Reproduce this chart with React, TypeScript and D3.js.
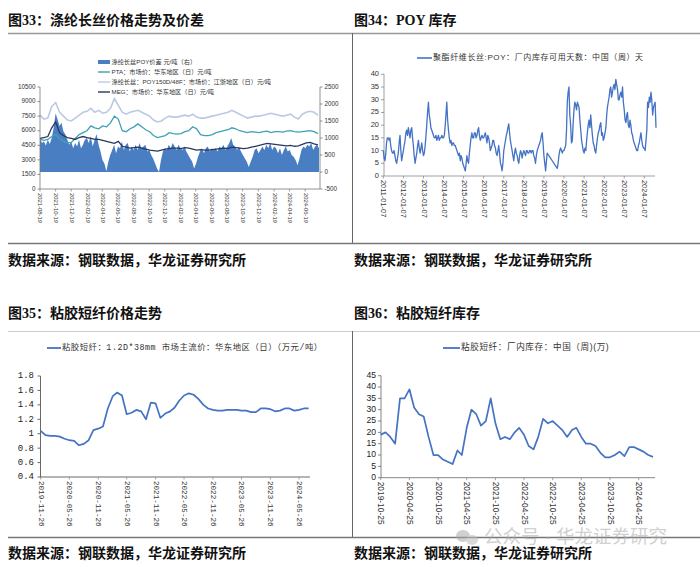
import React from "react";
import * as d3 from "d3";

// ---- 图33 涤纶长丝价格走势及价差 (2021-08-19 起) ----
// 价差（右轴，元/吨），约每周一个值
const spread = [
  1000, 850,
  900, 780, 950, 820, 1000, 1300, 1720, 1550, 1350, 1450, 1200, 1100,
  950, 800, 900, 700, 850, 750, 950, 700, 800, 950, 1000, 850,
  1050, 750, 950, 1120, 800, 600, 350, 250, 20, 300, 500, 650,
  800, 550, 750, 700, 900, 650, 800, 850, 600, 750, 650, 800,
  650, 850, 700, 750, 800, 600, 650, 500, 400, 250, 100, 0,
  350, 600, 700, 650, 800, 700, 850, 750, 650, 800, 700, 650,
  750, 600, 500, 400, 300, 100, 250, 450, 600, 700, 550, 700,
  750, 600, 700, 650, 700, 600, 750, 700, 800, 650, 750, 850,
  1000, 800, 750, 650, 750, 600, 500, 400, 300, 150, 300, 450,
  650, 700, 550, 650, 750, 650, 800, 700, 850, 650, 750, 700,
  550, 700, 500, 650, 750, 600, 650, 500, 450, 350, 200, 400,
  650, 750, 700, 800, 750, 850, 650, 750,
  800, 700,
];
// 半月值（左轴，元/吨）
const pta = [
  5100,
  5000, 5100, 5400, 5600, 5200, 4900, 4750, 4800,
  5200, 5600, 5800, 6000, 6500, 6300, 6200, 6500, 6400, 6800, 7500, 7200,
  6000, 5900, 6200, 6400, 6700, 6400, 6100, 5900, 5500, 5300, 5400, 5500,
  5800, 5700, 5650, 5700, 5900, 6000, 6400, 6200, 5600, 5500, 5500, 5600,
  5800, 5900, 6000, 6100, 6300, 6200, 6000, 5900, 5800, 5900, 5850, 5800,
  5900, 5950, 5800, 5900, 5900, 5850, 5950, 6000, 5900, 5850, 5900, 5950,
  6000, 5900, 5700,
];
const poy = [
  7600,
  7200, 7300, 8500, 8900, 7900, 7500, 7100, 7000,
  7300, 7600, 7900, 8000, 8300, 7900, 8100, 7800, 7900, 8300, 9300, 8600,
  7900, 7700, 7900, 8000, 8100, 7900, 7700, 7500, 7100, 6900, 7000, 7300,
  7500, 7400, 7400, 7500, 7600, 7500, 7700, 7400, 7300, 7300, 7400, 7500,
  7600, 7700, 7800, 7900, 8100, 7900, 7700, 7500, 7300, 7400, 7500, 7500,
  7600, 7700, 7800, 7700, 7600, 7500, 7600, 7700, 7400, 7200, 7700, 7900,
  8000, 7900, 7600,
];
const meg = [
  5200,
  5300, 5400, 6300, 6900, 5800, 5500, 5300, 5200,
  5100, 5300, 5400, 5300, 5200, 5100, 5100, 5000, 4900, 4800, 4700, 4900,
  4400, 4300, 4200, 4250, 4300, 4200, 4100, 4000, 3950, 3900, 4000, 4100,
  4150, 4200, 4200, 4150, 4250, 4200, 4100, 4000, 4050, 4000, 4000, 4050,
  4100, 4150, 4200, 4150, 4300, 4250, 4200, 4150, 4200, 4300, 4400, 4500,
  4600, 4700, 4650, 4600, 4550, 4500, 4450, 4500, 4400, 4450, 4600, 4750,
  4800, 4650, 4550,
];
const leftTicks33 = [0, 1500, 3000, 4500, 6000, 7500, 9000, 10500];
const rightTicks33 = [-500, 0, 500, 1000, 1500, 2000, 2500];
const legend33 = [
  "涤纶长丝POY价差 元/吨（右）",
  "PTA：市场价：华东地区（日）元/吨",
  "涤纶长丝：POY150D/48F：市场价：江浙地区（日）元/吨",
  "MEG：市场价：华东地区（日）元/吨",
];

// ---- 图34 POY 库存天数（半月，2011-01 起） ----
const poyDays = [
  10, 7, 6, 9, 13, 15, 15, 14, 15, 12, 10, 9, 9, 10, 8, 6, 5, 7, 9, 13, 16, 10, 6, 8,
  10, 12, 14, 17, 18, 16, 19, 17, 15, 18, 19, 15, 12, 8, 5, 7, 9, 12, 14, 11, 9, 11, 13, 10,
  8, 9, 12, 16, 20, 25, 29, 24, 22, 19, 18, 17, 16, 15, 15, 16, 14, 15, 16, 14, 15, 15, 16, 15,
  15, 16, 20, 25, 29, 22, 18, 15, 13, 14, 12, 13, 13, 12, 12, 11, 10, 9, 8, 9, 6, 8, 7, 5,
  4, 3, 2, 5, 8, 6, 5, 9, 12, 15, 17, 15, 15, 17, 17, 15, 16, 18, 19, 16, 14, 15, 16, 15,
  15, 16, 17, 15, 13, 16, 15, 13, 10, 11, 12, 14, 14, 12, 11, 9, 8, 10, 12, 9, 5, 4, 2, 5,
  10, 12, 14, 16, 17, 19, 20.5, 17, 14, 12, 10, 8, 6, 9, 11, 9, 8, 6, 5, 8, 10, 9, 7, 9,
  10, 9, 8, 10, 10, 9, 9, 10, 10, 9, 10, 10, 8, 7, 5, 8, 10, 11, 12, 13, 14, 16, 17, 13,
  8, 5, 2, 6, 9, 8.5, 8, 7.5, 7, 6.5, 6, 5.5, 5, 4.5, 4, 3.5, 3, 5, 8, 10, 11, 10, 9, 10,
  10, 11, 12, 18, 29, 33, 35, 24, 20, 13, 14, 21, 26, 29, 28, 26, 29, 28, 27, 22, 18, 14, 12, 10,
  9, 11, 10, 14, 17, 20, 22, 19, 24, 20, 16, 13, 12, 10, 9, 12, 15, 17, 18, 20, 21, 16, 17, 14,
  15, 17, 19, 24, 27, 29, 31, 34, 35, 31, 33, 35, 36, 34, 38, 36, 34, 30, 30, 32, 33, 31, 35, 29,
  26, 22, 21, 24, 25, 20, 19, 22, 20, 17, 16, 14, 13, 12, 11, 10, 10, 12, 13, 15, 17, 14, 12, 11,
  11, 10, 14, 18, 29, 27, 31, 29, 33, 30, 24, 27, 28, 29, 19,
];
const legend34 = "聚酯纤维长丝:POY：厂内库存可用天数：中国（周）天";

// ---- 图35 粘胶短纤价格（月度，2019-11-26 起，万元/吨） ----
const vscPrice = [
  1.04, 0.98, 0.97, 0.97, 0.96, 0.93, 0.91, 0.9, 0.84, 0.86, 0.91, 1.05,
  1.07, 1.1, 1.35, 1.52, 1.57, 1.53, 1.27, 1.29, 1.33, 1.31, 1.2, 1.43,
  1.42, 1.22, 1.28, 1.31, 1.36, 1.46, 1.53, 1.56, 1.54, 1.48, 1.4, 1.35,
  1.33, 1.32, 1.32, 1.33, 1.33, 1.33, 1.32, 1.32, 1.3, 1.3, 1.35, 1.35,
  1.34, 1.31, 1.32, 1.35, 1.35, 1.32, 1.33, 1.35, 1.35,
];
const ticks35 = [0.4, 0.6, 0.8, 1, 1.2, 1.4, 1.6, 1.8];
const legend35 = "粘胶短纤：1.2D*38mm 市场主流价：华东地区（日）（万元/吨）";

// ---- 图36 粘胶短纤库存（月度，2019-10-25 起，万吨） ----
const vscStock = [
  19, 20, 18, 15, 35, 35, 39, 31, 28, 27, 18, 10,
  10, 8, 7, 6, 12, 10, 22, 30, 28, 23, 25, 35,
  24, 17, 18, 17, 20, 22, 19, 14, 12.5, 18, 26, 24,
  25, 23, 21, 18, 21, 22, 18, 15, 15, 14, 11, 9,
  9, 10, 11.5, 9.5, 13.5, 13.5, 12.5, 11.5, 10, 9.2,
];
const ticks36 = [0, 5, 10, 15, 20, 25, 30, 35, 40, 45];
const legend36 = "粘胶短纤：厂内库存：中国（周)(万)";

const CJK = "'Liberation Serif', 'Noto Sans CJK SC', serif";
const SANS = "'Liberation Sans', 'Noto Sans CJK SC', sans-serif";
const MONO = "'Liberation Mono', 'Noto Sans CJK SC', monospace";
const BLUE = "#4472C4";
const fmt = d3.timeFormat("%Y-%m-%d");

const evenDates = (a: Date, b: Date, n: number) =>
  d3.range(n).map((i) => new Date(+a + ((+b - +a) * i) / (n - 1)));

function XLabels({ dates, x, y, size, font }: any) {
  return (
    <g>
      {dates.map((d: Date, i: number) => (
        <g key={i}>
          <line x1={x(d)} x2={x(d)} y1={y} y2={y + 2.5} stroke="#888" strokeWidth={0.8} />
          <text
            transform={`translate(${x(d)},${y + 4}) rotate(90)`}
            fontSize={size}
            fontFamily={font}
            dominantBaseline="middle"
            fill="#333"
          >
            {fmt(d)}
          </text>
        </g>
      ))}
    </g>
  );
}

function Chart33() {
  const x = d3.scaleTime().domain([new Date(2021, 7, 19), new Date(2024, 7, 19)]).range([40, 320.8]);
  const yL = d3.scaleLinear().domain([0, 10500]).range([189, 87]);
  const yR = d3.scaleLinear().domain([-500, 2500]).range([189, 87]);
  const sDates = evenDates(new Date(2021, 7, 19), new Date(2024, 7, 12), spread.length);
  const lDates = evenDates(new Date(2021, 7, 19), new Date(2024, 7, 8), pta.length);
  const area = d3.area<number>().x((_, i) => x(sDates[i])).y0(yR(0)).y1((v) => yR(v));
  const ln = d3.line<number>().x((_, i) => x(lDates[i])).y((v) => yL(v));
  const xTicks = d3.range(18).map((i) => d3.timeMonth.offset(new Date(2021, 7, 19), i * 2));
  const cols = ["#4A7EC2", "#3DA2B6", "#BACAE3", "#27395E"];
  return (
    <g>
      <path d={area(spread) || ""} fill={cols[0]} />
      <path d={ln(poy) || ""} fill="none" stroke={cols[2]} strokeWidth={1.6} />
      <path d={ln(pta) || ""} fill="none" stroke={cols[1]} strokeWidth={1.3} />
      <path d={ln(meg) || ""} fill="none" stroke={cols[3]} strokeWidth={1.3} />
      <line x1={40} x2={40} y1={87} y2={189} stroke="#777" strokeWidth={0.8} />
      <line x1={320} x2={320} y1={87} y2={189} stroke="#777" strokeWidth={0.8} />
      <line x1={40} x2={320} y1={189} y2={189} stroke="#777" strokeWidth={0.8} />
      {leftTicks33.map((t) => (
        <g key={t}>
          <line x1={37.5} x2={40} y1={yL(t)} y2={yL(t)} stroke="#777" strokeWidth={0.8} />
          <text x={35.5} y={yL(t)} fontSize={6.3} fontFamily={SANS} textAnchor="end" dominantBaseline="middle" fill="#333">{t}</text>
        </g>
      ))}
      {rightTicks33.map((t) => (
        <g key={t}>
          <line x1={320} x2={322.5} y1={yR(t)} y2={yR(t)} stroke="#777" strokeWidth={0.8} />
          <text x={324.5} y={yR(t)} fontSize={6.3} fontFamily={SANS} dominantBaseline="middle" fill="#333">{t}</text>
        </g>
      ))}
      <XLabels dates={xTicks} x={x} y={189} size={5.9} font={SANS} />
      {legend33.map((s, i) => {
        const ly = 62 + i * 10;
        return (
          <g key={i}>
            {i === 0 ? (
              <rect x={98} y={ly - 2} width={12} height={4} fill={cols[0]} />
            ) : (
              <line x1={98} x2={110} y1={ly} y2={ly} stroke={cols[i]} strokeWidth={1.4} />
            )}
            <text x={111.5} y={ly} fontSize={6.2} fontFamily={SANS} dominantBaseline="middle" fill="#333">{s}</text>
          </g>
        );
      })}
    </g>
  );
}

function Chart34() {
  const x = d3.scaleTime().domain([new Date(2011, 0, 7), new Date(2024, 0, 7)]).range([383.3, 644.3]);
  const y = d3.scaleLinear().domain([0, 40]).range([176, 74.3]);
  const dates = poyDays.map((_, i) =>
    d3.timeDay.offset(d3.timeMonth.offset(new Date(2011, 0, 7), Math.floor(i / 2)), i % 2 ? 15 : 0)
  );
  const ln = d3.line<number>().x((_, i) => x(dates[i])).y((v) => y(v));
  const xTicks = d3.range(14).map((i) => new Date(2011 + i, 0, 7));
  return (
    <g>
      <line x1={384} x2={384} y1={74} y2={176} stroke="#888" strokeWidth={0.8} />
      <line x1={384} x2={655} y1={176} y2={176} stroke="#888" strokeWidth={0.8} />
      {d3.range(0, 41, 5).map((t) => (
        <g key={t}>
          <line x1={381} x2={384} y1={y(t)} y2={y(t)} stroke="#888" strokeWidth={0.8} />
          <text x={379} y={y(t)} fontSize={7.5} fontFamily={SANS} textAnchor="end" dominantBaseline="middle" fill="#333">{t}</text>
        </g>
      ))}
      <XLabels dates={xTicks} x={x} y={176} size={7.4} font={SANS} />
      <path d={ln(poyDays) || ""} fill="none" stroke={BLUE} strokeWidth={1.3} strokeLinejoin="round" />
      <line x1={417} x2={432} y1={58} y2={58} stroke={BLUE} strokeWidth={1.6} />
      <text x={433} y={58} fontSize={8} letterSpacing={0.6} fontFamily={SANS} dominantBaseline="middle" fill="#333">{legend34}</text>
    </g>
  );
}

function Chart35() {
  const x = d3.scaleTime().domain([new Date(2019, 10, 26), new Date(2024, 4, 26)]).range([40.7, 299]);
  const y = d3.scaleLinear().domain([0.4, 1.8]).range([477, 376]);
  const dates = vscPrice.map((_, i) => d3.timeMonth.offset(new Date(2019, 10, 26), i));
  const ln = d3.line<number>().x((_, i) => x(dates[i])).y((v) => y(v));
  const xTicks = d3.range(10).map((i) => d3.timeMonth.offset(new Date(2019, 10, 26), i * 6));
  return (
    <g>
      <line x1={40.5} x2={40.5} y1={376} y2={477} stroke="#444" strokeWidth={0.8} />
      <line x1={40.5} x2={310} y1={477} y2={477} stroke="#444" strokeWidth={0.8} />
      {ticks35.map((t) => (
        <g key={t}>
          <line x1={37.5} x2={40.5} y1={y(t)} y2={y(t)} stroke="#444" strokeWidth={0.8} />
          <text x={34} y={y(t)} fontSize={9} fontFamily={MONO} textAnchor="end" dominantBaseline="middle" fill="#222">{t}</text>
        </g>
      ))}
      <XLabels dates={xTicks} x={x} y={477} size={7.6} font={MONO} />
      <path d={ln(vscPrice) || ""} fill="none" stroke={BLUE} strokeWidth={1.7} strokeLinejoin="round" />
      <line x1={47} x2={61} y1={348} y2={348} stroke={BLUE} strokeWidth={1.8} />
      <text x={62} y={348} fontSize={8.4} letterSpacing={0.5} fontFamily={MONO} dominantBaseline="middle" fill="#333">{legend35}</text>
    </g>
  );
}

function Chart36() {
  const x = d3.scaleTime().domain([new Date(2019, 9, 25), new Date(2024, 3, 25)]).range([380.7, 638.7]);
  const y = d3.scaleLinear().domain([0, 45]).range([477.7, 375.7]);
  const dates = vscStock.map((_, i) => d3.timeMonth.offset(new Date(2019, 9, 25), i));
  const ln = d3.line<number>().x((_, i) => x(dates[i])).y((v) => y(v));
  const xTicks = d3.range(10).map((i) => d3.timeMonth.offset(new Date(2019, 9, 25), i * 6));
  return (
    <g>
      <line x1={381} x2={381} y1={375.7} y2={477.7} stroke="#666" strokeWidth={0.8} />
      <line x1={381} x2={655} y1={477.7} y2={477.7} stroke="#666" strokeWidth={0.8} />
      {ticks36.map((t) => (
        <g key={t}>
          <line x1={378} x2={381} y1={y(t)} y2={y(t)} stroke="#666" strokeWidth={0.8} />
          <text x={376} y={y(t)} fontSize={8.6} fontFamily={SANS} textAnchor="end" dominantBaseline="middle" fill="#222">{t}</text>
        </g>
      ))}
      <XLabels dates={xTicks} x={x} y={477.7} size={8.4} font={SANS} />
      <path d={ln(vscStock) || ""} fill="none" stroke={BLUE} strokeWidth={1.7} strokeLinejoin="round" />
      <line x1={443} x2={460} y1={348} y2={348} stroke={BLUE} strokeWidth={1.8} />
      <text x={461} y={348} fontSize={8.6} letterSpacing={0.6} fontFamily={SANS} dominantBaseline="middle" fill="#333">{legend36}</text>
    </g>
  );
}

export default function App() {
  const title = { fontSize: 14, fontWeight: 700, fontFamily: CJK, fill: "#111" } as const;
  return (
    <svg width={700} height={567} style={{ position: "absolute", left: 0, top: 0, background: "#fff" }}>
      <rect width={700} height={567} fill="#fff" />
      {/* 顶部两图 */}
      <text x={8} y={25} {...title}>图33：涤纶长丝价格走势及价差</text>
      <text x={354} y={25} {...title}>图34：POY 库存</text>
      <line x1={8} x2={700} y1={33.5} y2={33.5} stroke="#999" strokeWidth={1.6} />
      <line x1={352.5} x2={352.5} y1={33} y2={243} stroke="#666" strokeWidth={1} />
      <line x1={8} x2={700} y1={243.5} y2={243.5} stroke="#777" strokeWidth={1.6} />
      <text x={8} y={265} {...title}>数据来源：钢联数据，华龙证券研究所</text>
      <text x={354} y={265} {...title}>数据来源：钢联数据，华龙证券研究所</text>
      <Chart33 />
      <Chart34 />
      {/* 底部两图 */}
      <text x={8} y={318} {...title}>图35：粘胶短纤价格走势</text>
      <text x={354} y={318} {...title}>图36：粘胶短纤库存</text>
      <line x1={8} x2={700} y1={331.5} y2={331.5} stroke="#ccc" strokeWidth={1.2} />
      <line x1={352.5} x2={352.5} y1={331} y2={537} stroke="#666" strokeWidth={1} />
      <line x1={8} x2={700} y1={537.5} y2={537.5} stroke="#777" strokeWidth={1.6} />
      <text x={8} y={558} {...title}>数据来源：钢联数据，华龙证券研究所</text>
      <text x={354} y={558} {...title}>数据来源：钢联数据，华龙证券研究所</text>
      <Chart35 />
      <Chart36 />
      {/* 水印 */}
      <g opacity={0.55}>
        <ellipse cx={463} cy={536} rx={7} ry={6} fill="#aaa" />
        <ellipse cx={472} cy={540} rx={6} ry={5} fill="#bbb" />
        <text x={484} y={543} fontSize={18.5} fontFamily={SANS} fill="#aaa">公众号 · 华龙证券研究</text>
      </g>
    </svg>
  );
}
